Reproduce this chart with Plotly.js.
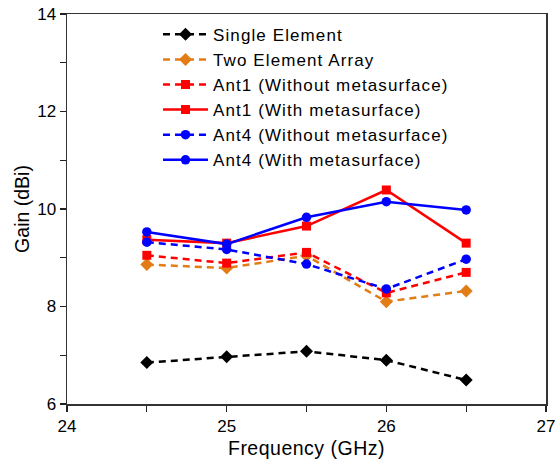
<!DOCTYPE html>
<html><head><meta charset="utf-8">
<script src="https://cdn.plot.ly/plotly-3.0.1.min.js"></script>
<style>
html,body{margin:0;padding:0;background:#fff}
.legendtext{letter-spacing:1.1px}
.xtitle{letter-spacing:0.5px}
</style>
</head><body>
<div id="chart" style="width:556px;height:468px"></div>
<script>
const freq = [24.5, 25, 25.5, 26, 26.5];
const singleElement = [6.85, 6.97, 7.08, 6.90, 6.49];
const twoElement = [8.86, 8.79, 9.04, 8.10, 8.32];
const ant1Without = [9.05, 8.89, 9.11, 8.28, 8.70];
const ant1With = [9.37, 9.30, 9.65, 10.39, 9.30];
const ant4Without = [9.32, 9.17, 8.87, 8.36, 8.97];
const ant4With = [9.53, 9.28, 9.83, 10.15, 9.98];
const names = ['Single Element','Two Element Array','Ant1 (Without metasurface)','Ant1 (With metasurface)','Ant4 (Without metasurface)','Ant4 (With metasurface)'];

const specs = [
  [singleElement, '#000000', 'dash', 'diamond', 10],
  [twoElement, '#E27C14', 'dash', 'diamond', 10],
  [ant1Without, '#FF0000', 'dash', 'square', 9],
  [ant1With, '#FF0000', 'solid', 'square', 9],
  [ant4Without, '#0000FF', 'dash', 'circle', 9.5],
  [ant4With, '#0000FF', 'solid', 'circle', 9.5]
];
const traces = specs.map((s, i) => ({
  x: freq, y: s[0], name: names[i], type: 'scatter', mode: 'lines+markers',
  line: {color: s[1], dash: s[2] === 'dash' ? '7px,5px' : 'solid', width: 2.5},
  marker: {color: s[1], symbol: s[3], size: s[4]}
}));
const ff = '"Liberation Sans", Arial, sans-serif';
const tickFont = {family: ff, size: 17, color: '#000'};
const titleFont = {family: ff, size: 19.5, color: '#000'};
const legendFont = {family: ff, size: 17, color: '#000'};
const layout = {
  width: 556, height: 468,
  margin: {l: 67, r: 10, t: 14, b: 64},
  paper_bgcolor: '#fff', plot_bgcolor: '#fff',
  font: tickFont,
  showlegend: true,
  legend: {x: 0.19, y: 0.993, xanchor: 'left', yanchor: 'top', bgcolor: 'rgba(0,0,0,0)', font: legendFont, tracegroupgap: 0, itemwidth: 45},
  xaxis: {
    range: [24, 27], dtick: 1, tick0: 24, showgrid: false, zeroline: false,
    ticks: 'outside', ticklen: 6, tickwidth: 1.2, tickcolor: '#222',
    minor: {dtick: 0.5, ticks: 'outside', ticklen: 6, tickwidth: 1.2, tickcolor: '#222', showgrid: false},
    showline: true, linecolor: '#333', linewidth: 1.5, mirror: true,
    title: {text: 'Frequency (GHz)', font: titleFont, standoff: 6},
    tickfont: tickFont
  },
  yaxis: {
    range: [6, 14], dtick: 2, tick0: 6, showgrid: false, zeroline: false,
    ticks: 'outside', ticklen: 6, tickwidth: 1.2, tickcolor: '#222',
    minor: {dtick: 1, ticks: 'outside', ticklen: 6, tickwidth: 1.2, tickcolor: '#222', showgrid: false},
    showline: true, linecolor: '#333', linewidth: 1.5, mirror: true,
    title: {text: 'Gain (dBi)', font: titleFont, standoff: 2},
    tickfont: tickFont
  }
};
Plotly.newPlot('chart', traces, layout, {displayModeBar: false, staticPlot: true});
</script>
</body></html>
